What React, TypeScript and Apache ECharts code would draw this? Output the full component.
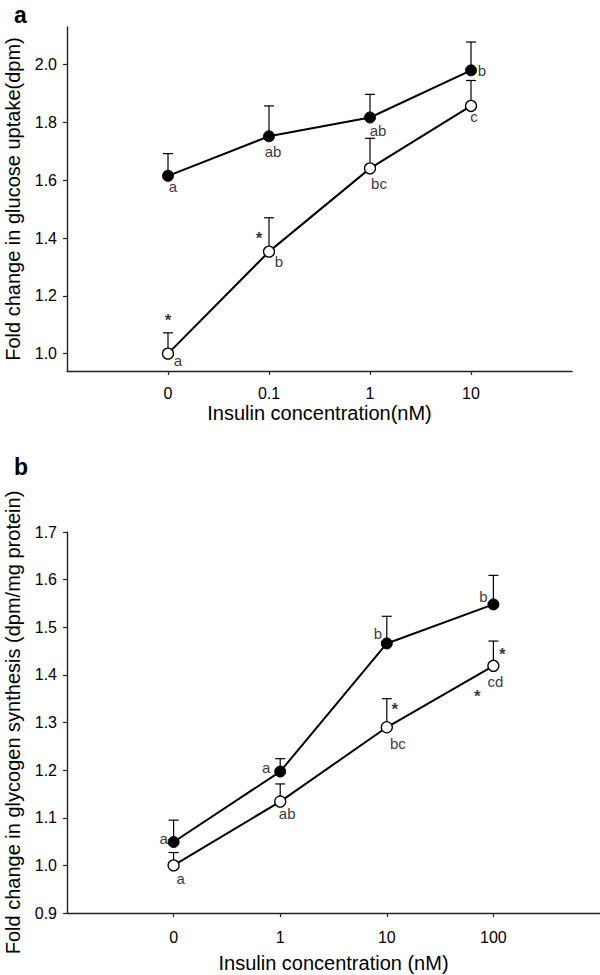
import React, { useEffect, useRef } from "react";
import * as echarts from "echarts";

// Panel a: glucose uptake
const catsA = ["0", "0.1", "1", "10"];
const filledA = [1.615, 1.752, 1.817, 1.98];
const filledAErr = [1.692, 1.857, 1.897, 2.078];
const openA = [1.0, 1.353, 1.641, 1.857];
const openAErr = [1.072, 1.47, 1.745, 1.945];
const filledALetters = ["a", "ab", "ab", "b"];
const openALetters = ["a", "b", "bc", "c"];
const yTicksA = [1.0, 1.2, 1.4, 1.6, 1.8, 2.0];

// Panel b: glycogen synthesis
const catsB = ["0", "1", "10", "100"];
const filledB = [1.049, 1.197, 1.466, 1.548];
const filledBErr = [1.095, 1.224, 1.523, 1.609];
const openB = [1.0, 1.134, 1.29, 1.419];
const openBErr = [1.027, 1.171, 1.35, 1.471];
const filledBLetters = ["a", "a", "b", "b"];
const openBLetters = ["a", "ab", "bc", "cd"];
const yTicksB = [0.9, 1.0, 1.1, 1.2, 1.3, 1.4, 1.5, 1.6, 1.7];

// label offsets (style)
const offFilledA = [[5, 11], [4, 15], [8, 13], [11, 0]];
const offOpenA = [[10, 7], [10, 10], [9, 15], [3, 11]];
const offFilledB = [[-10, -4], [-14, -4], [-9, -10], [-10, -8]];
const offOpenB = [[7, 13], [7, 12], [11, 16], [2, 16]];
// stars attached to open points: [index, dx, dy]
const starsA = [[0, 0, -33], [1, -10, -13]];
const starsB = [[2, 8, -18], [3, 9, -11], [3, -16, 31]];

const FONT = "Liberation Sans, Arial, sans-serif";

function errSeries(name: string, xi: number, ya: number, means: number[], ups: number[]) {
  return {
    type: "custom",
    name,
    xAxisIndex: xi,
    yAxisIndex: ya,
    z: 1,
    data: means.map((m, i) => [i, m, ups[i]]),
    renderItem: (params: any, api: any) => {
      const x = api.value(0), m = api.value(1), u = api.value(2);
      const p0 = api.coord([x, m]);
      const p1 = api.coord([x, u]);
      return {
        type: "group",
        children: [
          { type: "line", shape: { x1: p0[0], y1: p0[1], x2: p1[0], y2: p1[1] }, style: { stroke: "#000", lineWidth: 1.2 } },
          { type: "line", shape: { x1: p1[0] - 5, y1: p1[1], x2: p1[0] + 5, y2: p1[1] }, style: { stroke: "#000", lineWidth: 1.2 } },
        ],
      };
    },
  };
}

function lineSeries(xi: number, ya: number, vals: number[], filled: boolean) {
  return {
    type: "line",
    xAxisIndex: xi,
    yAxisIndex: ya,
    z: 3,
    data: vals.map((v, i) => [i, v]),
    symbol: "circle",
    symbolSize: 11,
    showSymbol: true,
    lineStyle: { color: "#000", width: 2 },
    itemStyle: filled
      ? { color: "#000", borderColor: "#000", borderWidth: 1 }
      : { color: "#fff", borderColor: "#000", borderWidth: 1.3 },
  };
}

const TRANSPARENT = "rgba(0,0,0,0)";

function labelSeries(xi: number, ya: number, vals: number[], texts: string[], offs: number[][]) {
  return {
    type: "scatter",
    xAxisIndex: xi,
    yAxisIndex: ya,
    z: 4,
    symbolSize: 1,
    itemStyle: { color: TRANSPARENT, borderWidth: 0 },
    silent: true,
    label: { show: true, position: "inside", color: "#000", fontSize: 15, fontFamily: FONT, textBorderWidth: 0 },
    data: vals.map((v, i) => ({
      value: [i, v],
      label: {
        show: true,
        position: "inside",
        formatter: texts[i],
        offset: offs[i],
        color: "#000",
        fontSize: 15,
        fontFamily: FONT,
        textBorderWidth: 0,
      },
    })),
  };
}

function starSeries(xi: number, ya: number, vals: number[], stars: number[][]) {
  return {
    type: "scatter",
    xAxisIndex: xi,
    yAxisIndex: ya,
    z: 4,
    symbolSize: 1,
    itemStyle: { color: TRANSPARENT, borderWidth: 0 },
    silent: true,
    label: { show: true, position: "inside", color: "#000", fontSize: 17, fontWeight: "bold", fontFamily: FONT, textBorderWidth: 0 },
    data: stars.map((s) => ({
      value: [s[0], vals[s[0]]],
      label: {
        show: true,
        position: "inside",
        formatter: "*",
        offset: [s[1], s[2]],
        color: "#000",
        fontSize: 17,
        fontWeight: "bold",
        fontFamily: FONT,
        textBorderWidth: 0,
      },
    })),
  };
}

function xAxis(gi: number, cats: string[], title: string, gap: number, labelMargin: number) {
  return {
    type: "value",
    gridIndex: gi,
    min: -1,
    max: 4,
    interval: 1,
    name: title,
    nameLocation: "middle",
    nameGap: gap,
    nameTextStyle: { fontSize: 20, color: "#000", fontFamily: FONT },
    axisLine: { onZero: false, lineStyle: { color: "#222", width: 1.4 } },
    axisTick: { show: true, length: 4, inside: false, customValues: [0, 1, 2, 3], lineStyle: { color: "#222", width: 1.2 } },
    axisLabel: {
      customValues: [0, 1, 2, 3],
      formatter: (v: number) => cats[Math.round(v)] ?? "",
      fontSize: 16,
      color: "#000",
      fontFamily: FONT,
      margin: labelMargin,
    },
    splitLine: { show: false },
  };
}

function yAxis(gi: number, min: number, max: number, ticks: number[], title: string) {
  return {
    type: "value",
    gridIndex: gi,
    min,
    max,
    name: title,
    nameLocation: "middle",
    nameRotate: 90,
    nameGap: 44,
    nameTextStyle: { fontSize: 20, color: "#000", fontFamily: FONT },
    axisLine: { show: true, onZero: false, lineStyle: { color: "#222", width: 1.4 } },
    axisTick: { show: true, length: 4, customValues: ticks, lineStyle: { color: "#222", width: 1.2 } },
    axisLabel: {
      customValues: ticks,
      formatter: (v: number) => v.toFixed(1),
      fontSize: 16,
      color: "#000",
      fontFamily: FONT,
      margin: 10,
    },
    splitLine: { show: false },
  };
}

export default function App() {
  const ref = useRef<HTMLDivElement>(null);
  useEffect(() => {
    if (!ref.current) return;
    const chart = echarts.init(ref.current, null, { renderer: "svg" });
    chart.setOption({
      animation: false,
      backgroundColor: "#fff",
      grid: [
        { left: 67, top: 27, width: 505, height: 344, containLabel: false, outerBoundsMode: "none" },
        { left: 67, top: 532, width: 533, height: 381, containLabel: false, outerBoundsMode: "none" },
      ],
      xAxis: [
        xAxis(0, catsA, "Insulin concentration(nM)", 32, 14),
        xAxis(1, catsB, "Insulin concentration (nM)", 40, 16),
      ],
      yAxis: [
        yAxis(0, 0.94, 2.13, yTicksA, "Fold change in glucose uptake(dpm)"),
        yAxis(1, 0.9, 1.7, yTicksB, "Fold change in glycogen synthesis (dpm/mg protein)"),
      ],
      graphic: [
        { type: "text", left: 14, top: 3, style: { text: "a", fontSize: 23, fontWeight: "bold", fill: "#000", fontFamily: FONT } },
        { type: "text", left: 14, top: 455, style: { text: "b", fontSize: 23, fontWeight: "bold", fill: "#000", fontFamily: FONT } },
      ],
      series: [
        errSeries("errFA", 0, 0, filledA, filledAErr),
        errSeries("errOA", 0, 0, openA, openAErr),
        lineSeries(0, 0, filledA, true),
        lineSeries(0, 0, openA, false),
        labelSeries(0, 0, filledA, filledALetters, offFilledA),
        labelSeries(0, 0, openA, openALetters, offOpenA),
        starSeries(0, 0, openA, starsA),
        errSeries("errFB", 1, 1, filledB, filledBErr),
        errSeries("errOB", 1, 1, openB, openBErr),
        lineSeries(1, 1, filledB, true),
        lineSeries(1, 1, openB, false),
        labelSeries(1, 1, filledB, filledBLetters, offFilledB),
        labelSeries(1, 1, openB, openBLetters, offOpenB),
        starSeries(1, 1, openB, starsB),
      ],
    });
    return () => chart.dispose();
  }, []);
  return (
    <div
      ref={ref}
      style={{ position: "absolute", left: 0, top: 0, width: 600, height: 975, background: "#fff" }}
    />
  );
}
